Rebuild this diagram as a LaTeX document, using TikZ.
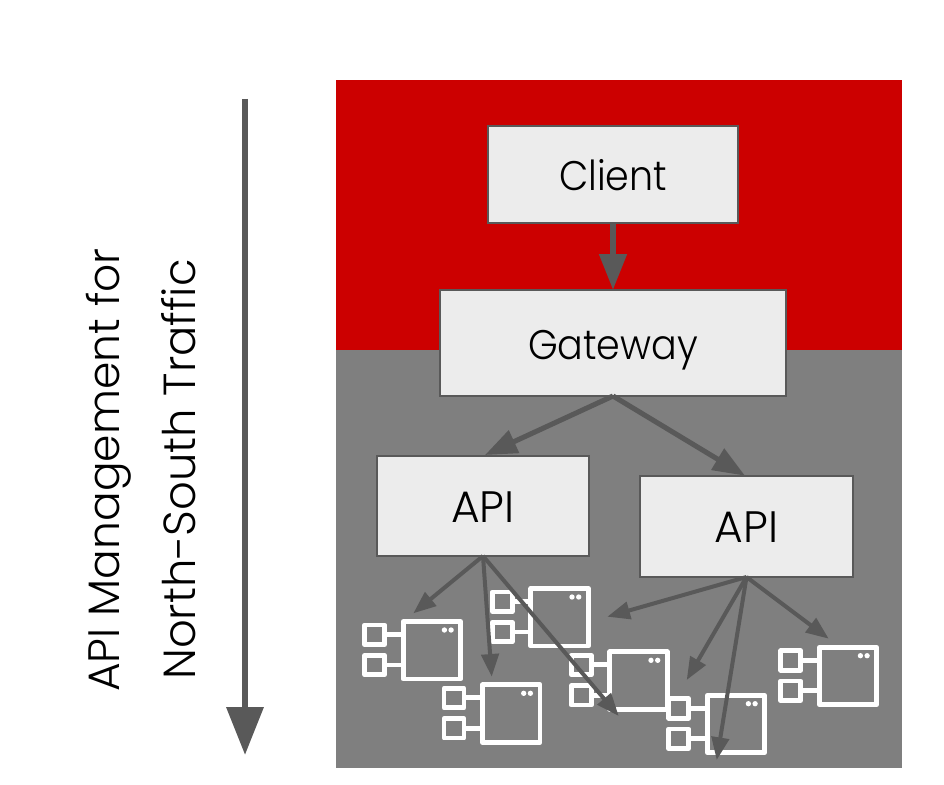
\documentclass[tikz,border=0pt]{standalone}
\usepackage{fontspec}
\setmainfont{Poppins}[UprightFont=* Light]
\newfontfamily\boxfont{Poppins}[UprightFont=* Light,FakeStretch=0.92]
\usetikzlibrary{arrows.meta}
\definecolor{rhred}{HTML}{CC0000}
\definecolor{rhgrey}{HTML}{7F7F7F}
\definecolor{boxfill}{HTML}{ECECEC}
\definecolor{linegrey}{HTML}{595959}
\tikzset{
  x=0.75pt,y=-0.75pt,
  boxnode/.style={draw=linegrey,line width=1.5pt,fill=boxfill,text=black,inner sep=0pt,outer sep=0pt,anchor=north west,align=center,text height=24.7pt,text depth=0pt,font=\boxfont\fontsize{31pt}{36pt}\selectfont},
  apinode/.style={boxnode,text height=24.5pt,font=\fontsize{33pt}{38pt}\selectfont},
  sidelabel/.style={rotate=90,text=black,inner sep=0pt},
  comppart/.style={draw=white,line width=3.5pt,line join=round},
  bigarrow/.style={draw=linegrey,line width=5pt,-{Triangle[length=36pt,width=27pt]}},
  mainarrow/.style={draw=linegrey,line width=4.5pt,-{Triangle[length=27pt,width=20pt]}},
  gatewayarrow/.style={draw=linegrey,line width=3.8pt,-{Triangle[length=24pt,width=18pt]}},
  smallarrow/.style={draw=linegrey,line width=3pt,-{Triangle[length=17pt,width=13pt]}},
}
\newcommand{\comp}[2]{%
  \begin{scope}[shift={(#1,#2)}]
    \draw[comppart] (2.5,2.5) rectangle (60,60);
    \draw[comppart] (-26,15.5) -- (2.5,15.5);
    \draw[comppart] (-26,46) -- (2.5,46);
    \draw[comppart,fill=rhgrey] (-36,6) rectangle (-16,25.5);
    \draw[comppart,fill=rhgrey] (-36,36.3) rectangle (-16,55.8);
    \fill[white] (43.7,11) circle (2pt);
    \fill[white] (50.4,11) circle (2pt);
  \end{scope}}
\begin{document}
\begin{tikzpicture}
\useasboundingbox (0,0) rectangle (944,784);
\fill[white] (0,0) rectangle (944,784);
\fill[rhred] (336,80) rectangle (902,350);
\fill[rhgrey] (336,349.5) rectangle (902,768);

\comp{400.7}{619}
\comp{480}{682.3}
\comp{528.3}{586}
\comp{607.3}{649.3}
\comp{704.7}{692.7}
\comp{816.7}{644.7}

\node[boxnode,minimum width=187.5pt,minimum height=72.75pt] (client) at (488,126) {Client};
\node[boxnode,minimum width=259.5pt,minimum height=79.5pt] (gateway) at (440,290) {Gateway};
\node[apinode,minimum width=159pt,minimum height=75pt] (api1) at (377,456) {API};
\node[apinode,minimum width=159.75pt,minimum height=75.75pt] (api2) at (640,476) {API};

\coordinate (gtip) at (613,290);
\coordinate (gw1) at (485,455);
\coordinate (gw2) at (745,475.7);
\coordinate (a1) at (413.3,613.3);
\coordinate (a2) at (491.7,676.7);
\coordinate (a3) at (618.7,716);
\coordinate (b1) at (607.3,616.7);
\coordinate (b2) at (686.7,680);
\coordinate (b3) at (716.7,760);
\coordinate (b4) at (828.7,638.7);
\coordinate (axisstart) at (245,99);
\coordinate (axisend) at (245,755);

\draw[mainarrow] (client.south) -- (gtip);
\draw[gatewayarrow] (gateway.south) -- (gw1);
\draw[gatewayarrow] (gateway.south) -- (gw2);
\draw[smallarrow] (api1.south) -- (a1);
\draw[smallarrow] (api1.south) -- (a2);
\draw[smallarrow] (api1.south) -- (a3);
\draw[smallarrow] (api2.south) -- (b1);
\draw[smallarrow] (api2.south) -- (b2);
\draw[smallarrow] (api2.south) -- (b3);
\draw[smallarrow] (api2.south) -- (b4);
\draw[bigarrow] (axisstart) -- (axisend);

\node[sidelabel,font=\fontsize{33pt}{38pt}\selectfont] (lab1) at (109,470) {API Management for};
\node[sidelabel,font=\fontsize{33.7pt}{38pt}\selectfont] (lab2) at (179,469.5) {North-South Traffic};
\end{tikzpicture}
\end{document}
